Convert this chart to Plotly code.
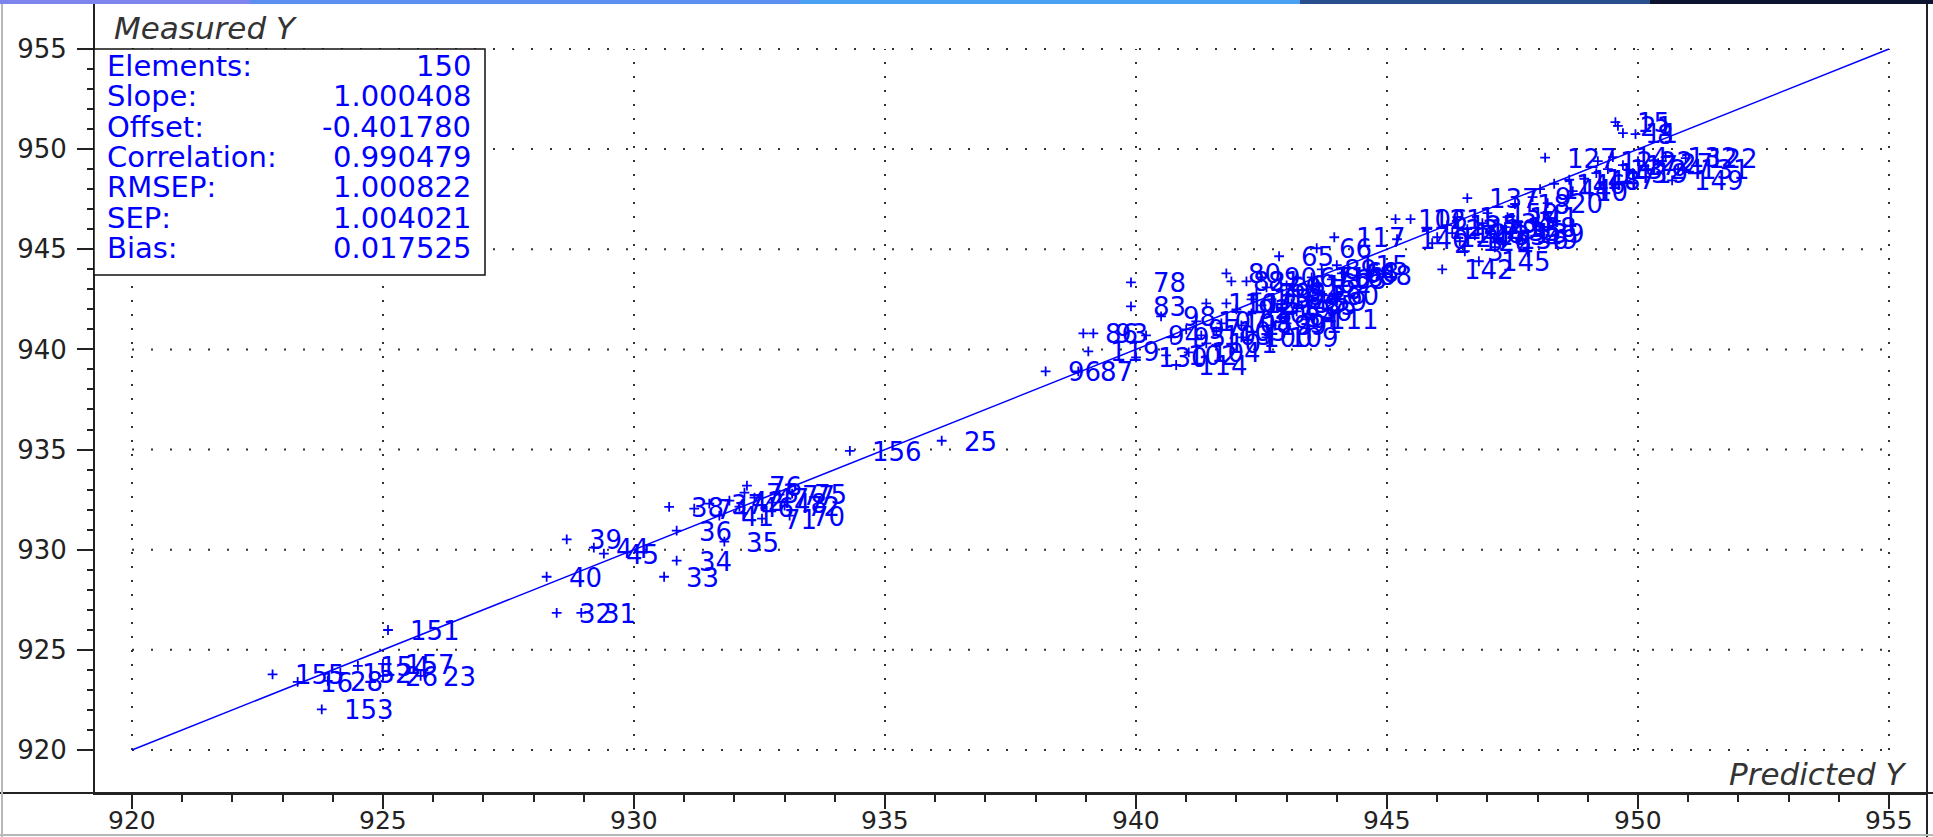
import plotly.graph_objects as go

# ---------------- data ----------------
x_pred = [
    922.80, 923.30, 923.90, 923.78, 925.10, 924.15, 924.50, 925.00, 925.00, 925.75,
    928.46, 928.95, 928.26, 928.66, 929.20, 929.40, 930.85, 930.60, 930.85, 931.80,
    930.70, 932.25, 931.50, 931.90, 932.10, 931.70, 932.40, 932.75, 932.90, 932.55,
    933.10, 933.15, 933.00, 932.20, 931.20,
    934.30, 936.13,
    938.20, 938.85, 938.95, 939.15, 939.05, 939.90, 939.90, 940.50, 940.80, 940.00,
    940.60, 941.05, 941.40, 940.20, 940.70, 941.00, 941.30, 941.60, 941.20, 941.70,
    941.40, 941.80, 941.80, 941.90, 942.10, 942.60, 942.85, 943.60, 943.95,
    942.30, 942.50, 942.70, 942.90, 943.00, 943.10, 943.20, 943.40, 943.50, 943.75,
    943.00, 943.60, 943.90, 944.10, 943.20, 944.15, 942.60, 942.40, 942.20, 942.90,
    943.30, 944.40, 943.70, 942.50, 943.00, 942.00, 942.70, 943.40, 942.10, 944.00,
    943.50, 942.30,
    945.20, 945.17, 945.47, 946.10, 946.83, 946.60, 947.70, 945.80, 946.00, 946.20,
    946.30, 946.45, 946.60, 946.75, 946.90, 947.05, 947.20, 947.35, 947.50, 947.40,
    947.00, 946.40, 945.90, 946.55, 947.15, 947.60,
    947.55, 948.20, 948.05, 948.33, 948.63, 948.93, 949.17, 948.15, 947.90, 948.70,
    949.60, 949.55, 949.95, 950.95, 950.55, 950.68, 949.70, 949.20, 949.40, 949.50,
    949.70, 949.90, 950.00, 950.20, 950.40, 950.80,
]
y_meas = [
    923.78, 923.40, 923.45, 922.03, 925.99, 923.85, 924.20, 924.30, 923.70, 923.70,
    926.85, 926.85, 928.65, 930.52, 930.10, 929.80, 929.45, 928.65, 930.95, 930.40,
    932.14, 933.20, 932.30, 932.45, 932.15, 931.70, 932.60, 932.35, 932.75, 931.55,
    931.70, 932.80, 932.20, 932.85, 932.05,
    934.93, 935.44,
    938.90, 938.90, 940.80, 940.80, 939.90, 943.35, 942.15, 941.65, 939.22, 939.60,
    939.70, 939.85, 940.30, 940.70, 940.60, 941.00, 940.70, 940.90, 941.40, 941.30,
    942.30, 942.30, 943.80, 943.40, 940.60, 940.60, 944.65, 945.05, 945.60,
    941.80, 942.20, 942.50, 942.00, 942.70, 942.30, 941.90, 943.00, 942.40, 942.70,
    943.20, 943.30, 943.50, 943.80, 943.60, 943.85, 943.10, 942.80, 943.40, 941.60,
    942.20, 943.70, 944.00, 943.60, 941.30, 942.00, 941.20, 941.50, 941.20, 944.20,
    943.60, 942.50,
    945.50, 946.50, 946.50, 944.00, 944.40, 947.55, 945.50, 946.00, 945.60, 946.20,
    945.80, 945.40, 946.00, 945.70, 946.30, 945.90, 945.50, 946.10, 945.80, 946.60,
    946.80, 946.60, 945.30, 944.90, 945.10, 946.40,
    947.26, 947.30, 948.00, 948.27, 948.47, 948.52, 948.80, 949.57, 947.60, 947.90,
    951.16, 951.35, 950.75, 949.55, 949.60, 948.44, 950.80, 949.40, 949.00, 949.60,
    949.20, 948.80, 949.40, 949.00, 949.30, 949.00,
]
point_id = [
    155, 16, 28, 153, 151, 152, 154, 157, 26, 23,
    32, 31, 40, 39, 44, 45, 34, 33, 36, 35,
    38, 76, 37, 42, 46, 41, 47, 48, 77, 71,
    70, 75, 72, 73, 74,
    156, 25,
    96, 87, 86, 93, 119, 78, 83, 98, 114, 130,
    102, 104, 101, 94, 95, 97, 103, 105, 107, 108,
    110, 112, 80, 82, 100, 109, 65, 66, 117,
    50, 51, 52, 53, 54, 55, 56, 58, 59, 60,
    61, 62, 63, 64, 67, 68, 69, 79, 81, 84,
    85, 88, 89, 90, 91, 92, 99, 111, 113, 115,
    116, 118,
    140, 106, 121, 142, 145, 137, 49, 123, 124, 125,
    126, 128, 129, 133, 134, 135, 136, 138, 139, 141,
    150, 1, 2, 3, 4, 5,
    18, 20, 144, 146, 148, 147, 143, 127, 9, 10,
    21, 15, 8, 122, 132, 149, 11, 12, 13, 14,
    17, 19, 22, 24, 27, 131,
]
stat_names = ["Elements:", "Slope:", "Offset:", "Correlation:", "RMSEP:", "SEP:", "Bias:"]
stat_values = ["150", "1.000408", "-0.401780", "0.990479", "1.000822", "1.004021", "0.017525"]
grid_vals = [920, 925, 930, 935, 940, 945, 950, 955]
tick_text = ["920", "925", "930", "935", "940", "945", "950", "955"]
minor_vals = [v for v in range(921, 955) if v % 5 != 0]
diag_line = [920, 955]
x_title = "Predicted Y"
y_title = "Measured Y"

# ---------------- layout helpers ----------------
W, H = 1933, 837
ML, MR, MT, MB = 95, 6, 4, 44
PW, PH = W - ML - MR, H - MT - MB


def pxx(x):
    return (x - ML) / PW


def pxy(y):
    return (H - MB - y) / PH


BLUE = "#0000FF"
DARK = "#222222"
FONT = "DejaVu Sans"

fig = go.Figure()
fig.add_trace(go.Scatter(x=diag_line, y=diag_line, mode="lines",
                         line=dict(color=BLUE, width=1.5), hoverinfo="skip",
                         showlegend=False))
fig.add_trace(go.Scatter(x=x_pred, y=y_meas, mode="markers",
                         marker=dict(symbol="cross-thin", size=7,
                                     line=dict(color=BLUE, width=1.8)),
                         text=[str(p) for p in point_id], showlegend=False))

annotations = []
for xv, yv, lab in zip(x_pred, y_meas, point_id):
    annotations.append(dict(x=xv, y=yv, xref="x", yref="y", text=str(lab),
                            showarrow=False, xanchor="left", yanchor="middle",
                            xshift=20, yshift=-1,
                            font=dict(family=FONT, size=26, color=BLUE)))

for i, (nm, val) in enumerate(zip(stat_names, stat_values)):
    yy = pxy(66 + i * 30.3)
    annotations.append(dict(x=pxx(105), y=yy, xref="paper", yref="paper", text=nm,
                            showarrow=False, xanchor="left", yanchor="middle",
                            font=dict(family=FONT, size=29, color=BLUE)))
    annotations.append(dict(x=pxx(473), y=yy, xref="paper", yref="paper", text=val,
                            showarrow=False, xanchor="right", yanchor="middle",
                            font=dict(family=FONT, size=29, color=BLUE)))

annotations.append(dict(x=pxx(112), y=pxy(28), xref="paper", yref="paper", text=y_title,
                        showarrow=False, xanchor="left", yanchor="middle",
                        font=dict(family=FONT, size=31, color="#333333", style="italic")))
annotations.append(dict(x=pxx(1909), y=pxy(774), xref="paper", yref="paper", text=x_title,
                        showarrow=False, xanchor="right", yanchor="middle",
                        font=dict(family=FONT, size=31, color="#333333", style="italic")))

# x tick labels placed explicitly just under the long ticks
for g, t in zip(grid_vals, tick_text):
    annotations.append(dict(x=g, y=pxy(820), xref="x", yref="paper", text=t,
                            showarrow=False, xanchor="center", yanchor="middle",
                            borderpad=0,
                            font=dict(family=FONT, size=25, color=DARK)))

shapes = []
for g in grid_vals:
    shapes.append(dict(type="line", xref="x", yref="y", x0=g, x1=g,
                       y0=grid_vals[0], y1=grid_vals[-1], layer="below",
                       line=dict(color="#333333", width=2, dash="2px,12px")))
    shapes.append(dict(type="line", xref="x", yref="y", y0=g, y1=g,
                       x0=grid_vals[0], x1=grid_vals[-1], layer="below",
                       line=dict(color="#333333", width=2, dash="2px,17px")))

# statistics box
shapes.append(dict(type="rect", xref="paper", yref="paper", x0=pxx(94), x1=pxx(485),
                   y0=pxy(275), y1=pxy(49), fillcolor="white", layer="above",
                   line=dict(color="#111111", width=1.5)))
# full-width x-axis line, right frame, window edges
shapes.append(dict(type="line", xref="paper", yref="paper", x0=pxx(0), x1=pxx(W),
                   y0=0, y1=0, line=dict(color=DARK, width=2)))
shapes.append(dict(type="line", xref="paper", yref="paper", x0=pxx(1927), x1=pxx(1927),
                   y0=pxy(H), y1=pxy(0), line=dict(color=DARK, width=2)))
shapes.append(dict(type="line", xref="paper", yref="paper", x0=pxx(2), x1=pxx(2),
                   y0=pxy(H), y1=pxy(0), line=dict(color="#b8b8b8", width=2)))
shapes.append(dict(type="line", xref="paper", yref="paper", x0=pxx(0), x1=pxx(W),
                   y0=pxy(835), y1=pxy(835), line=dict(color="#b8b8b8", width=2)))
# title-bar strip at the very top
for x0, x1, col in [(0, 250, "#7d84ee"), (250, 800, "#5b8ff0"), (800, 1300, "#4aa0f2"),
                    (1300, 1650, "#2a4f8f"), (1650, W, "#0c1430")]:
    shapes.append(dict(type="rect", xref="paper", yref="paper", x0=pxx(x0), x1=pxx(x1),
                       y0=pxy(4), y1=pxy(0), fillcolor=col, line=dict(width=0)))

axis_common = dict(showgrid=False, zeroline=False, showline=True, linecolor=DARK,
                   linewidth=2, ticks="outside", tickcolor=DARK, tickwidth=2,
                   tick0=920, dtick=5, automargin=False,
                   tickfont=dict(family=FONT, size=26, color=DARK))

fig.update_layout(
    width=W, height=H,
    margin=dict(l=ML, r=MR, t=MT, b=MB, pad=0, autoexpand=False),
    paper_bgcolor="white", plot_bgcolor="white",
    showlegend=False,
    xaxis=dict(range=[919.263, 955.757], ticklen=14, showticklabels=False,
               minor=dict(tickmode="array", tickvals=minor_vals, ticks="outside",
                          ticklen=7, tickwidth=1.5, tickcolor=DARK, showgrid=False),
               **axis_common),
    yaxis=dict(range=[917.853, 957.244], ticklen=16, ticklabelstandoff=5,
               minor=dict(tickmode="array", tickvals=minor_vals, ticks="outside",
                          ticklen=6, tickwidth=1.5, tickcolor=DARK, showgrid=False),
               **axis_common),
    annotations=annotations,
    shapes=shapes,
)

fig.write_html(
    "out.html",
    config={"displayModeBar": False},
    post_script="document.body.style.margin='0px';document.body.style.padding='0px';"
                "document.body.style.overflow='hidden';",
)
